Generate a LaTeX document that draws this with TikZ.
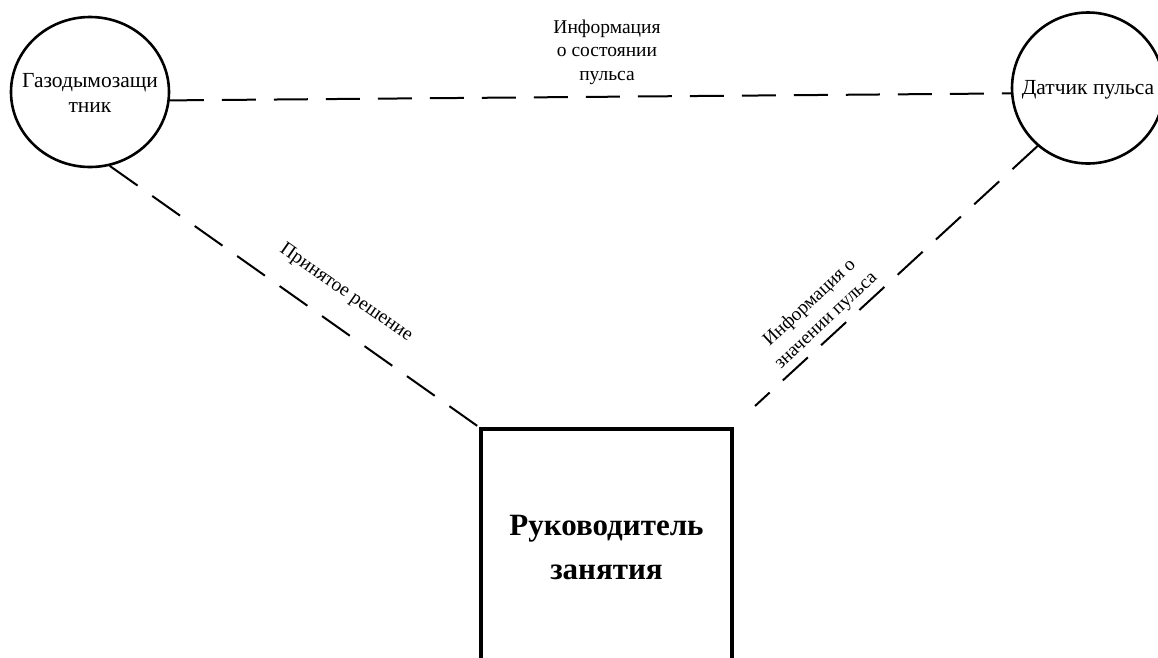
\documentclass[tikz,border=0pt]{standalone}
\usepackage{fontspec}
\setmainfont{Liberation Serif}
\usetikzlibrary{shapes.geometric}
\begin{document}
\begin{tikzpicture}[x=1pt,y=-1pt,
  conn/.style={line width=2pt, dash pattern=on 34pt off 18pt},
  actor/.style={draw, ellipse, line width=2.6pt, minimum width=158pt, minimum height=150pt, inner sep=0pt},
  actortext/.style={align=center, inner sep=0pt, font=\fontsize{21.5}{25}\selectfont},
  boss/.style={draw, line width=3.2pt, minimum width=251pt, minimum height=236pt, align=center, font=\bfseries\fontsize{31}{44}\selectfont},
  lbl/.style={align=center, inner sep=0pt, font=\fontsize{19.5}{23.5}\selectfont}]
\clip (0,0) rectangle (1158,657);
\fill[white] (0,0) rectangle (1158,657);
\node[actor] (gaz) at (90,92) {};
\node[actortext] (gazt) at ([yshift=-1pt]gaz.center) {Газодымозащи\\тник};
\node[actor, minimum width=152pt, minimum height=151pt] (dat) at (1088,88) {};
\node[actortext] (datt) at ([yshift=-2pt]dat.center) {Датчик пульса};
\node[boss] (ruk) at (606.5,547) {Руководитель\\занятия};
\coordinate (rend) at (755,406);
\draw[conn] (gaz.-6) -- (dat.184);
\draw[conn] (gaz.-75) -- (ruk.north west);
\draw[conn] (dat.-131) -- (rend);
\node[lbl] (l1) at (607,52) {Информация\\о состоянии\\пульса};
\node[lbl, rotate=-35] (l2) at (346,293) {Принятое решение};
\node[lbl, rotate=43, font=\fontsize{19}{24}\selectfont] (l3) at (818,312) {Информация о\\значении пульса};
\end{tikzpicture}
\end{document}
